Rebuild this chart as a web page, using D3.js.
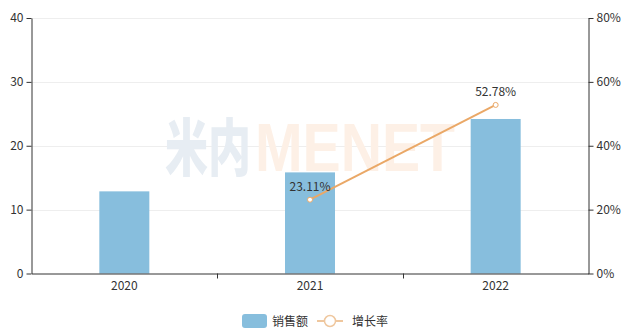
<!DOCTYPE html>
<html><head><meta charset="utf-8">
<script src="https://cdn.jsdelivr.net/npm/d3@7/dist/d3.min.js"></script>
<style>
html,body{margin:0;padding:0;background:#fff;}
svg{display:block;font-family:"Noto Sans CJK SC","Microsoft YaHei",sans-serif;}
</style></head>
<body>
<svg id="chart" width="635" height="334"></svg>
<script>
const categories = ["2020", "2021", "2022"];
const sales = [12.86, 15.83, 24.19];
const growthYears = ["2021", "2022"];
const growth = [23.11, 52.78];
const leftTicks = [0, 10, 20, 30, 40];
const rightTicks = [0, 20, 40, 60, 80];
const legendLabels = ["销售额", "增长率"];

const W = 635, H = 334;
const m = {left: 31.5, right: 46.5, top: 18, bottom: 60.5};
const svg = d3.select("#chart");
const x = d3.scaleBand().domain(categories).range([m.left, W - m.right]);
const y = d3.scaleLinear().domain([0, 40]).range([H - m.bottom, m.top]);
const y2 = d3.scaleLinear().domain([0, 80]).range([H - m.bottom, m.top]);

const barColor = "#87bedd", lineColor = "#eaa867";
const textColor = "#333";

// grid
svg.append("g").selectAll("line").data(leftTicks.slice(1)).join("line")
  .attr("x1", m.left).attr("x2", W - m.right)
  .attr("y1", d => Math.round(y(d)) + 0.5).attr("y2", d => Math.round(y(d)) + 0.5)
  .attr("stroke", "#eeeeee").attr("stroke-width", 1);

// watermark
const wm = svg.append("g").attr("font-family", "'Liberation Sans', Arial, sans-serif").attr("font-weight", "bold");
wm.append("text").attr("x", 165).attr("y", 171).attr("font-size", 62)
  .attr("font-family", "'Noto Sans CJK SC', sans-serif").attr("font-weight", 900)
  .attr("textLength", 86).attr("lengthAdjust", "spacingAndGlyphs")
  .attr("fill", "#e7edf3").text("米内");
wm.append("text").attr("x", 255).attr("y", 171).attr("font-size", 68)
  .attr("textLength", 200).attr("lengthAdjust", "spacingAndGlyphs")
  .attr("fill", "#fdf0e6").text("MENET");

// bars
const bw = 50;
svg.append("g").selectAll("rect").data(categories).join("rect")
  .attr("x", d => x(d) + x.bandwidth() / 2 - bw / 2)
  .attr("width", bw)
  .attr("y", (d, i) => y(sales[i]))
  .attr("height", (d, i) => y(0) - y(sales[i]))
  .attr("fill", barColor);

// axes
const axL = svg.append("g").attr("transform", `translate(${m.left},0)`)
  .call(d3.axisLeft(y).tickValues(leftTicks).tickSize(5).tickSizeOuter(0));
const axR = svg.append("g").attr("transform", `translate(${W - m.right},0)`)
  .call(d3.axisRight(y2).tickValues(rightTicks).tickFormat(d => d + "%").tickSize(5).tickSizeOuter(0));
const axB = svg.append("g").attr("transform", `translate(0,${H - m.bottom})`)
  .call(d3.axisBottom(x).tickSize(0).tickSizeOuter(0));
// band boundary ticks
const bounds = categories.slice(1).map(c => x(c));
axB.selectAll(".bt").data(bounds).join("line").attr("class", "bt")
  .attr("x1", d => Math.round(d) + 0.5).attr("x2", d => Math.round(d) + 0.5)
  .attr("y1", 0).attr("y2", 5).attr("stroke", textColor);
[axL, axR, axB].forEach(a => {
  a.select(".domain").attr("stroke", textColor);
  a.selectAll(".tick line").attr("stroke", textColor);
  a.selectAll("text").attr("fill", textColor).attr("font-size", 12)
    .attr("font-family", "'Noto Sans CJK SC', sans-serif");
});
axL.selectAll("text").attr("x", -8);
axR.selectAll("text").attr("x", 8);
axB.selectAll("text").attr("y", 8);

// line
const gx = d => x(d) + x.bandwidth() / 2;
const line = d3.line().x((d, i) => gx(growthYears[i])).y(d => y2(d));
svg.append("path").datum(growth).attr("d", line)
  .attr("fill", "none").attr("stroke", lineColor).attr("stroke-width", 2);
svg.append("g").selectAll("circle").data(growth).join("circle")
  .attr("cx", (d, i) => gx(growthYears[i])).attr("cy", d => y2(d)).attr("r", 2.5)
  .attr("fill", "#fff").attr("stroke", lineColor).attr("stroke-width", 1);
svg.append("g").selectAll("text").data(growth).join("text")
  .attr("x", (d, i) => gx(growthYears[i])).attr("y", d => y2(d) - 9)
  .attr("text-anchor", "middle").attr("font-size", 12).attr("fill", textColor)
  .text(d => d.toFixed(2) + "%");

// legend
const lg = svg.append("g");
lg.append("rect").attr("x", 242).attr("y", 314).attr("width", 25).attr("height", 14).attr("rx", 3)
  .attr("fill", barColor);
lg.append("text").attr("x", 272).attr("y", 325.5).attr("font-size", 12).attr("fill", textColor).text(legendLabels[0]);
lg.append("line").attr("x1", 317).attr("x2", 343).attr("y1", 321).attr("y2", 321)
  .attr("stroke", "#efc79e").attr("stroke-width", 2);
lg.append("circle").attr("cx", 330).attr("cy", 321).attr("r", 5.5)
  .attr("fill", "#fff").attr("stroke", "#efc79e").attr("stroke-width", 1.5);
lg.append("text").attr("x", 352).attr("y", 325.5).attr("font-size", 12).attr("fill", textColor).text(legendLabels[1]);
</script>
</body></html>
